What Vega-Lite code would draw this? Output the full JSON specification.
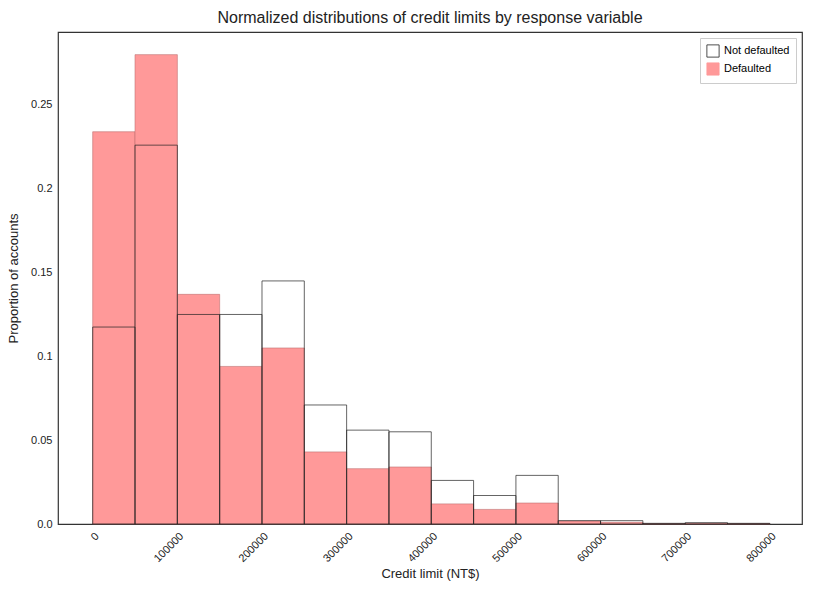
{
  "$schema": "https://vega.github.io/schema/vega-lite/v6.json",
  "width": 744,
  "height": 492,
  "autosize": "none",
  "padding": {"left": 58, "top": 32, "right": 26, "bottom": 69},
  "background": "white",
  "config": {
    "font": "Liberation Sans",
    "view": {"stroke": "#333", "strokeWidth": 1.2},
    "title": {"fontSize": 16, "fontWeight": "normal", "color": "#222", "offset": 6},
    "axis": {"grid": false, "domain": false, "labelFontSize": 11, "labelColor": "#222", "titleFontSize": 13, "titleFontWeight": "normal", "titleColor": "#222", "tickSize": 0, "labelPadding": 6}
  },
  "title": "Normalized distributions of credit limits by response variable",
  "data": {"values": [
    {"group": "Defaulted", "lo": 0, "p": 0.234},
    {"group": "Defaulted", "lo": 50000, "p": 0.28},
    {"group": "Defaulted", "lo": 100000, "p": 0.137},
    {"group": "Defaulted", "lo": 150000, "p": 0.094},
    {"group": "Defaulted", "lo": 200000, "p": 0.105},
    {"group": "Defaulted", "lo": 250000, "p": 0.043},
    {"group": "Defaulted", "lo": 300000, "p": 0.033},
    {"group": "Defaulted", "lo": 350000, "p": 0.034},
    {"group": "Defaulted", "lo": 400000, "p": 0.012},
    {"group": "Defaulted", "lo": 450000, "p": 0.0087},
    {"group": "Defaulted", "lo": 500000, "p": 0.0125},
    {"group": "Defaulted", "lo": 550000, "p": 0.0018},
    {"group": "Defaulted", "lo": 600000, "p": 0.001},
    {"group": "Defaulted", "lo": 650000, "p": 0.0002},
    {"group": "Defaulted", "lo": 700000, "p": 0.0004},
    {"group": "Defaulted", "lo": 750000, "p": 0.0002},
    {"group": "Not defaulted", "lo": 0, "p": 0.1175},
    {"group": "Not defaulted", "lo": 50000, "p": 0.226},
    {"group": "Not defaulted", "lo": 100000, "p": 0.125},
    {"group": "Not defaulted", "lo": 150000, "p": 0.125},
    {"group": "Not defaulted", "lo": 200000, "p": 0.145},
    {"group": "Not defaulted", "lo": 250000, "p": 0.071},
    {"group": "Not defaulted", "lo": 300000, "p": 0.056},
    {"group": "Not defaulted", "lo": 350000, "p": 0.055},
    {"group": "Not defaulted", "lo": 400000, "p": 0.026},
    {"group": "Not defaulted", "lo": 450000, "p": 0.017},
    {"group": "Not defaulted", "lo": 500000, "p": 0.029},
    {"group": "Not defaulted", "lo": 550000, "p": 0.002},
    {"group": "Not defaulted", "lo": 600000, "p": 0.002},
    {"group": "Not defaulted", "lo": 650000, "p": 0.0004},
    {"group": "Not defaulted", "lo": 700000, "p": 0.0008},
    {"group": "Not defaulted", "lo": 750000, "p": 0.0004}
  ]},
  "transform": [{"calculate": "datum.lo + 50000", "as": "hi"}],
  "encoding": {
    "x": {"field": "lo", "type": "quantitative", "title": "Credit limit (NT$)",
      "scale": {"domain": [-41000, 838000], "nice": false, "zero": false},
      "axis": {"values": [0, 100000, 200000, 300000, 400000, 500000, 600000, 700000, 800000], "format": "d", "labelAngle": -45, "labelAlign": "right", "labelBaseline": "top", "titlePadding": 4}},
    "x2": {"field": "hi"},
    "y": {"field": "p", "type": "quantitative", "title": "Proportion of accounts",
      "scale": {"domain": [0, 0.2935], "nice": false},
      "axis": {"values": [0, 0.05, 0.1, 0.15, 0.2, 0.25], "format": "~g", "labelExpr": "datum.value == 0 ? '0.0' : datum.label", "titlePadding": 10}}
  },
  "layer": [
    {
      "transform": [{"filter": "datum.group == 'Defaulted'"}],
      "mark": {"type": "rect", "fill": "#ff9999", "stroke": "#c07070", "strokeWidth": 0.6}
    },
    {
      "transform": [{"filter": "datum.group == 'Not defaulted'"}],
      "mark": {"type": "rect", "fillOpacity": 0, "stroke": "#222", "strokeWidth": 0.7}
    },
    {
      "transform": [{"filter": "datum.lo == 0"}],
      "encoding": {
        "y": {"datum": 0, "type": "quantitative"},
        "x": {"datum": 0, "type": "quantitative"},
        "x2": null,
        "fill": {"field": "group", "type": "nominal",
          "scale": {"domain": ["Not defaulted", "Defaulted"], "range": ["white", "#ff9999"]},
          "legend": {"title": null, "orient": "top-right", "symbolType": "square", "symbolSize": 150, "symbolOpacity": 1, "symbolStrokeWidth": 0.8, "labelFontSize": 11, "strokeColor": "#ccc", "fillColor": "white", "padding": 6, "offset": 6}},
        "stroke": {"field": "group", "type": "nominal",
          "scale": {"domain": ["Not defaulted", "Defaulted"], "range": ["#222", "#ff9999"]},
          "legend": {"title": null, "orient": "top-right", "symbolType": "square", "symbolSize": 150, "symbolOpacity": 1, "symbolStrokeWidth": 0.8, "labelFontSize": 11, "strokeColor": "#ccc", "fillColor": "white", "padding": 6, "offset": 6}}
      },
      "mark": {"type": "point", "shape": "square", "filled": true, "fillOpacity": 0, "strokeOpacity": 0, "size": 1}
    }
  ]
}
